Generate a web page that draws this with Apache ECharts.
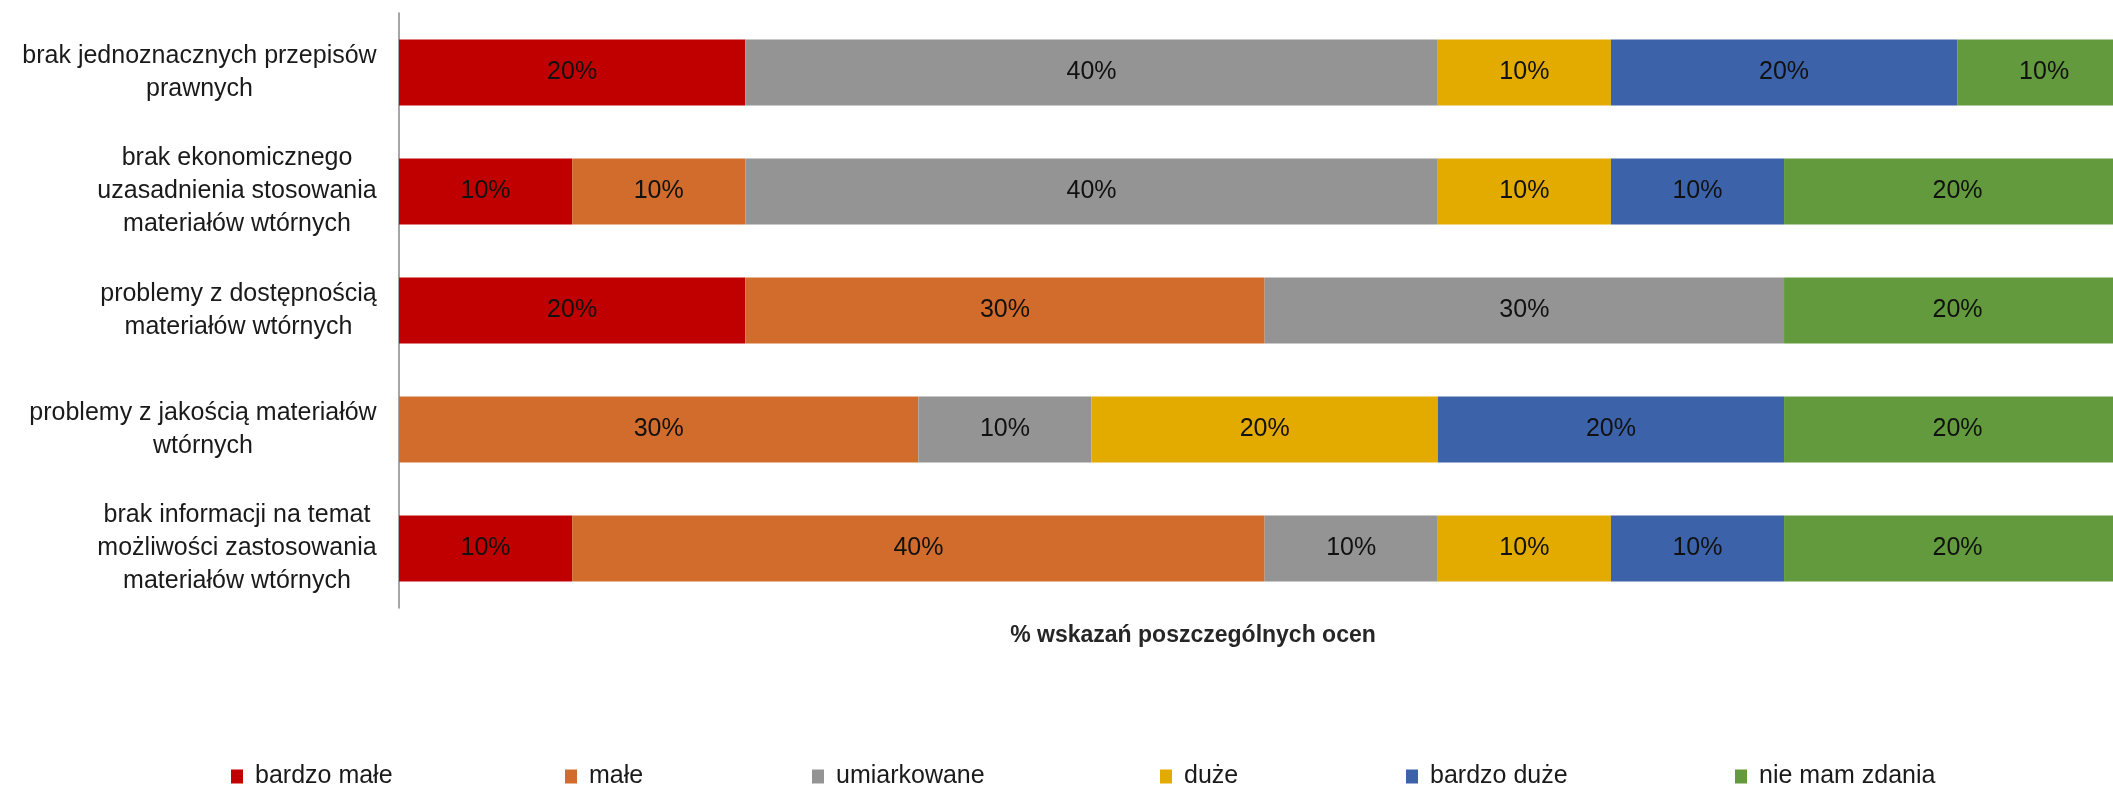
<!DOCTYPE html>
<html>
<head>
<meta charset="utf-8">
<script src="https://cdn.jsdelivr.net/npm/echarts@6/dist/echarts.min.js"></script>
<style>
  html, body { margin: 0; padding: 0; background: #fff; }
  #chart { width: 2113px; height: 788px; }
</style>
</head>
<body>
<div id="chart"></div>
<script>
const categories = [
  'brak jednoznacznych przepisów\nprawnych',
  'brak ekonomicznego\nuzasadnienia stosowania\nmateriałów wtórnych',
  'problemy z dostępnością\nmateriałów wtórnych',
  'problemy z jakością materiałów\nwtórnych',
  'brak informacji na temat\nmożliwości zastosowania\nmateriałów wtórnych'
]

const seriesNames = ['bardzo małe', 'małe', 'umiarkowane', 'duże', 'bardzo duże', 'nie mam zdania']
const seriesColors = ['#C00000', '#D16C2C', '#949494', '#E3AA00', '#3C63AA', '#629A3D']

// % per category, in the order of categories
const bardzoMale = [20, 10, 20, 0, 10]
const male = [0, 10, 30, 30, 40]
const umiarkowane = [40, 40, 30, 10, 10]
const duze = [10, 10, 0, 20, 10]
const bardzoDuze = [20, 10, 0, 20, 10]
const nieMamZdania = [10, 20, 20, 20, 20]
const seriesValues = [bardzoMale, male, umiarkowane, duze, bardzoDuze, nieMamZdania]

const axisTitle = '% wskazań poszczególnych ocen'

const fontFamily = '"Liberation Sans", Arial, sans-serif'
const fontSize = 25

// each label block is right-aligned, its lines centred inside it
const ctx = document.createElement('canvas').getContext('2d')
ctx.font = fontSize + 'px "Liberation Sans"'
const rich = {}
categories.forEach((c, i) => {
  const w = Math.max(...c.split('\n').map(l => ctx.measureText(l).width))
  rich['r' + i] = {
    width: Math.ceil(w),
    align: 'center',
    fontSize: fontSize,
    fontFamily: fontFamily,
    color: '#1a1a1a',
    lineHeight: 33
  }
})

const legendLeft = [231, 565, 812, 1160, 1406, 1735]

const chart = echarts.init(document.getElementById('chart'), null, { renderer: 'canvas' })

const option = {
  animation: false,
  title: {
    text: axisTitle,
    left: 1188,
    top: 619,
    textAlign: 'center',
    textStyle: {
      fontFamily: fontFamily,
      fontSize: 23,
      fontWeight: 'bold',
      color: '#262626'
    }
  },
  legend: seriesNames.map((name, i) => ({
    data: [name],
    left: legendLeft[i],
    top: 764,
    itemWidth: 12,
    itemHeight: 14,
    icon: 'rect',
    padding: 0,
    textStyle: {
      fontFamily: fontFamily,
      fontSize: fontSize,
      color: '#1a1a1a',
      padding: [0, 0, 0, 7]
    }
  })),
  // the plot runs past the right edge in the original, so the visible part ends near 99%
  grid: {
    left: 399,
    top: 13,
    right: 0,
    height: 595,
    containLabel: false
  },
  xAxis: {
    type: 'value',
    min: 0,
    max: 99,
    show: false
  },
  yAxis: {
    type: 'category',
    inverse: true,
    data: categories,
    axisLine: { show: true, lineStyle: { color: '#898989', width: 1.5 } },
    axisTick: { show: false },
    axisLabel: {
      margin: 22,
      formatter: (value, index) => value.split('\n').map(l => `{r${index}|${l}}`).join('\n'),
      rich: rich
    }
  },
  series: seriesNames.map((name, i) => ({
    name: name,
    type: 'bar',
    stack: 'total',
    barWidth: 66,
    data: seriesValues[i],
    itemStyle: { color: seriesColors[i] },
    label: {
      show: true,
      position: 'inside',
      // last segment is cut by the edge; keep its label centred on the full segment
      offset: i === seriesNames.length - 1 ? [9, 0] : [0, 0],
      formatter: p => (p.value ? p.value + '%' : ''),
      fontFamily: fontFamily,
      fontSize: fontSize,
      color: '#111'
    }
  }))
}

chart.setOption(option)
</script>
</body>
</html>
